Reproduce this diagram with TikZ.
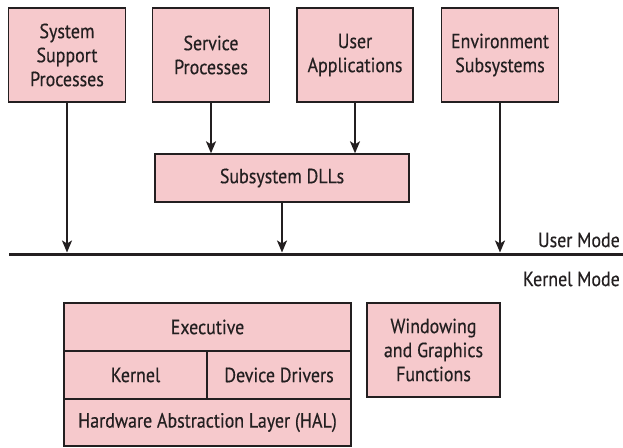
\documentclass[tikz,border=0pt]{standalone}
\usepackage{fontspec}
\setmainfont[FakeStretch=0.875,FakeBold=0.4]{PT Sans}
\usetikzlibrary{arrows.meta}
\definecolor{boxpink}{HTML}{F6C9CC}
\definecolor{ink}{HTML}{231F20}
\begin{document}
\begin{tikzpicture}[x=1pt,y=-1pt,
  box/.style={draw=ink,line width=1.4pt,fill=boxpink,text=ink,align=center,
    font=\fontsize{20.5}{24}\selectfont,inner sep=0pt,minimum height=#1},
  box/.default=94pt,
  conn/.style={draw=ink,line width=1.8pt,-{Stealth[length=12pt,width=10pt,inset=3pt]}},
  lbl/.style={text=ink,font=\fontsize{20.5}{24}\selectfont,anchor=east,inner sep=0pt}]
\useasboundingbox (0,0) rectangle (623,447);
% user-mode boxes
\node[box,minimum width=117pt] (ssp) at (67,55) {System\\Support\\Processes};
\node[box,minimum width=117pt] (sp) at (211,55) {Service\\Processes};
\node[box,minimum width=116pt] (ua) at (355,55) {User\\Applications};
\node[box,minimum width=117pt] (es) at (500,55) {Environment\\Subsystems};
\node[box=48pt,minimum width=254pt] (dll) at (282,178) {Subsystem DLLs};
% mode line
\coordinate (lineL) at (9,254);
\coordinate (lineR) at (623,254);
\draw[ink,line width=3pt] (lineL) -- (lineR);
\coordinate (t1) at (67,252.5);
\coordinate (t2) at (282,252.5);
\coordinate (t3) at (500,252.5);
\node[lbl] (um) at (620,240) {User Mode};
\node[lbl] (km) at (620,279) {Kernel Mode};
% connectors
\draw[conn] (ssp.south) -- (t1);
\draw[conn] (sp.south) -- (sp.south |- dll.north);
\draw[conn] (ua.south) -- (ua.south |- dll.north);
\draw[conn] (dll.south) -- (t2);
\draw[conn] (es.south) -- (t3);
% kernel-mode boxes
\node[box=48pt,minimum width=287pt] (exec) at (207.5,327) {Executive};
\node[box=48pt,minimum width=143pt] (kern) at (135.5,375) {Kernel};
\node[box=48pt,minimum width=144pt] (dd) at (279,375) {Device Drivers};
\node[box=47pt,minimum width=287pt] (hal) at (207.5,422.5) {Hardware Abstraction Layer (HAL)};
\node[box,minimum width=133pt] (win) at (433.5,350) {Windowing\\and Graphics\\Functions};
\end{tikzpicture}
\end{document}
